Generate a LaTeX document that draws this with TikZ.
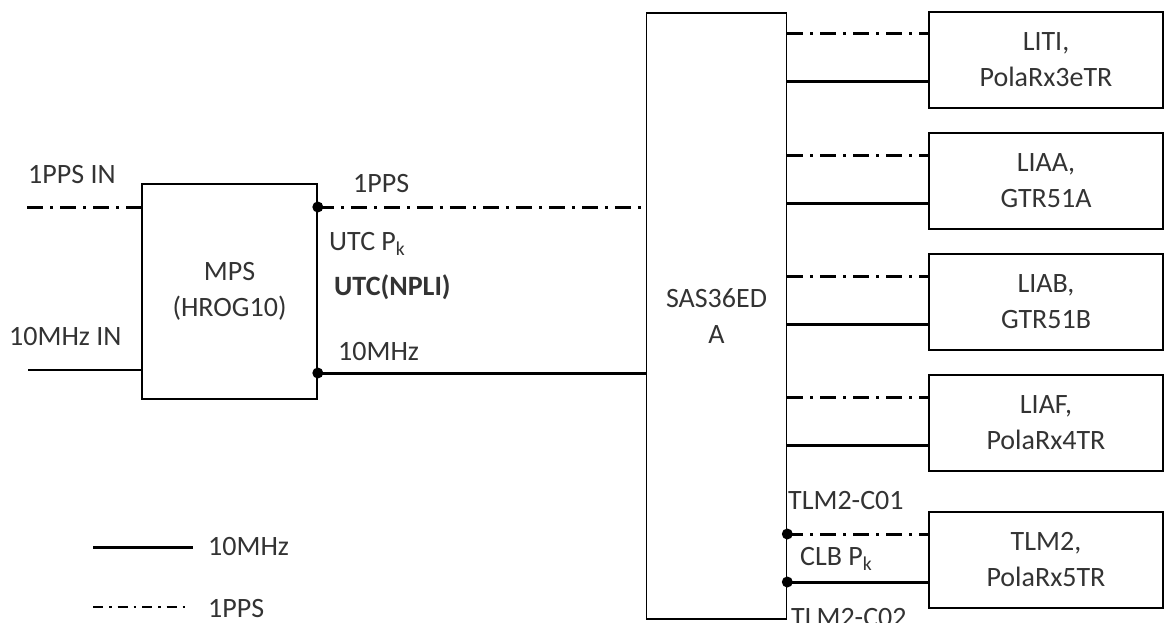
\documentclass[tikz,border=0pt]{standalone}
\usepackage{fontspec}
\setmainfont{Carlito}
\usetikzlibrary{calc}
\definecolor{clkInk}{HTML}{333333}
\tikzset{
  clk box/.style={draw=black, line width=1.6pt, inner sep=0pt, align=center, font=\fontsize{28}{36}\selectfont, text=clkInk},
  clk mhz/.style={draw=black, line width=3pt},
  clk pps/.style={draw=black, line width=3pt, dash pattern=on 16pt off 7pt on 3pt off 7pt},
  clk thin/.style={draw=black, line width=1.3pt},
  clk dot/.style={fill=black},
  clk label/.style={font=\fontsize{28}{32}\selectfont, text=clkInk, anchor=base west, inner sep=0pt},
}
\begin{document}
\begin{tikzpicture}[x=1pt,y=-1pt]
  \useasboundingbox (0,0) rectangle (1164,623);
  % Main blocks
  \node[clk box, minimum width=175pt, minimum height=215pt] (mps) at (229.5,291.5) {MPS\\(HROG10)};
  \node[clk box, minimum width=140pt, minimum height=606pt] (sas) at (716.5,316) {SAS36ED\\A};
  % Receivers, each fed by one 1PPS and one 10MHz line
  \foreach \rx/\yc/\txt in {liti/60/{LITI,\\PolaRx3eTR}, liaa/181/{LIAA,\\GTR51A}, liab/302/{LIAB,\\GTR51B}, liaf/423/{LIAF,\\PolaRx4TR}, tlm/560/{TLM2,\\PolaRx5TR}} {
    \node[clk box, minimum width=234pt, minimum height=96pt] (\rx) at (1046,\yc) {\txt};
    \draw[clk pps] ([yshift=26pt]\rx.west -| sas.east) -- ([yshift=26pt]\rx.west);
    \draw[clk mhz] ([yshift=-22pt]\rx.west -| sas.east) -- ([yshift=-22pt]\rx.west);
  }
  \fill[clk dot] ([yshift=26pt]tlm.west -| sas.east) circle (5.5pt);
  \fill[clk dot] ([yshift=-22pt]tlm.west -| sas.east) circle (5.5pt);
  % Inputs and outputs of the MPS
  \coordinate (ppsin) at (27,207);
  \coordinate (mhzin) at (28,370);
  \coordinate (ppsout) at (mps.east |- ppsin);
  \coordinate (mhzout) at ($(mps.east)+(0,81.5)$);
  \draw[clk pps] (ppsin) -- (ppsin -| mps.west);
  \draw[clk thin] (mhzin) -- (mhzin -| mps.west);
  \draw[clk pps] (ppsout) -- (ppsout -| sas.west);
  \draw[clk mhz] (mhzout) -- (mhzout -| sas.west);
  \fill[clk dot] (ppsout) circle (5.5pt);
  \fill[clk dot] (mhzout) circle (5.5pt);
  % Labels
  \node[clk label] (ppsinlbl) at (28,183) {1PPS IN};
  \node[clk label] (mhzinlbl) at (9,345) {10MHz IN};
  \node[clk label] (ppslbl) at (353,192) {1PPS};
  \node[clk label] (utcpk) at (329,250) {UTC P\textsubscript{k}};
  \node[clk label, font=\fontsize{28}{32}\selectfont\bfseries] (npli) at (334,295) {UTC(NPLI)};
  \node[clk label] (mhzlbl) at (338,360) {10MHz};
  \node[clk label] (c01) at (788,509) {TLM2-C01};
  \node[clk label] (clbpk) at (800,565) {CLB P\textsubscript{k}};
  \node[clk label] (c02) at (791,626) {TLM2-C02};
  % Legend
  \coordinate (legA) at (93,547);
  \coordinate (legB) at (193,547);
  \coordinate (legC) at (93,607);
  \coordinate (legD) at (185,607);
  \draw[clk mhz] (legA) -- (legB);
  \draw[clk pps, line width=2.6pt, dash pattern=on 10pt off 6pt on 2.5pt off 6pt] (legC) -- (legD);
  \node[clk label] (leg1) at (208,555) {10MHz};
  \node[clk label] (leg2) at (208,617) {1PPS};
\end{tikzpicture}
\end{document}
